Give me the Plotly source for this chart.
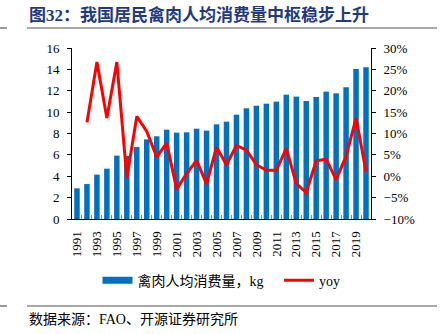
import plotly.graph_objects as go

years = list(range(1991, 2021))
consumption = [2.87, 3.27, 4.15, 4.71, 5.93, 5.90, 6.74, 7.45, 7.74, 8.36,
               8.08, 8.11, 8.45, 8.27, 8.86, 9.11, 9.76, 10.36, 10.60, 10.79,
               10.98, 11.63, 11.45, 11.04, 11.42, 11.92, 11.76, 12.32, 14.04, 14.19]
yoy_years = years[1:]
yoy = [12.6, 26.7, 13.6, 26.7, -0.4, 14.0, 10.5, 4.5, 7.8, -3.0,
       0.6, 3.7, -1.8, 6.8, 2.7, 7.2, 6.1, 2.7, 1.4, 1.4,
       6.5, -1.7, -3.8, 3.6, 4.0, -0.8, 4.7, 13.6, 1.1]
label_years = years[::2]

title = "图32：我国居民禽肉人均消费量中枢稳步上升"
source = "数据来源：FAO、开源证券研究所"
bar_name = "禽肉人均消费量，kg"
line_name = "yoy"

BLUE = "#0070C0"
RED = "#FF0000"
FONT = "Liberation Serif, Noto Sans CJK SC"

fig = go.Figure()
fig.add_trace(go.Bar(x=years, y=consumption, marker=dict(color=BLUE, line=dict(width=0)),
                     width=0.55, showlegend=False, name=bar_name))
fig.add_trace(go.Scatter(x=[None], y=[None], mode="lines", name=bar_name + "   ",
                         line=dict(color=BLUE, width=7)))
fig.add_trace(go.Scatter(x=yoy_years, y=yoy, mode="lines", name=line_name,
                         line=dict(color=RED, width=3), yaxis="y2"))
# boundary ticks on x axis
fig.add_trace(go.Scatter(x=[y + 0.5 for y in years[:-1]], y=[None] * (len(years) - 1),
                         xaxis="x2", showlegend=False, mode="markers"))

fig.update_layout(
    width=441, height=334,
    margin=dict(l=72, r=70, t=48, b=115, autoexpand=False),
    plot_bgcolor="white", paper_bgcolor="white",
    font=dict(family=FONT, size=13, color="black"),
    xaxis=dict(range=[1990.5, 2020.5], tickmode="array", tickvals=label_years,
               ticktext=[str(y) for y in label_years], tickangle=-90,
               showgrid=False, showline=True, linecolor="black", linewidth=1,
               ticks="", zeroline=False, tickfont=dict(size=13), ticklabelstandoff=6),
    xaxis2=dict(range=[1990.5, 2020.5], overlaying="x", tickmode="array",
                tickvals=[y + 0.5 for y in years[:-1]], showticklabels=False,
                ticks="inside", ticklen=4, tickcolor="#888888", showgrid=False,
                showline=False, zeroline=False, anchor="y"),
    yaxis=dict(range=[0, 16], dtick=2, showgrid=False, showline=True, linecolor="black",
               ticks="outside", ticklen=4, tickcolor="black", zeroline=False,
               tickfont=dict(size=13), ticklabelstandoff=5),
    yaxis2=dict(range=[-10, 30], dtick=5, ticksuffix="%", overlaying="y", side="right",
                showgrid=False, showline=True, linecolor="black", ticks="outside",
                ticklen=4, tickcolor="black", zeroline=False, tickfont=dict(size=13),
                ticklabelstandoff=5),
    legend=dict(orientation="h", x=0.5, xanchor="center", y=-0.36, yanchor="middle",
                font=dict(size=14), itemwidth=30, tracegroupgap=0),
)

px = lambda v: (v - 72) / 299
py = lambda v: (219 - v) / 171

fig.add_annotation(text="<b>" + title + "</b>", xref="paper", yref="paper",
                   x=px(27), y=py(15), xanchor="left", yanchor="middle",
                   showarrow=False, font=dict(size=17, color="#1F3A80", family=FONT))
fig.add_annotation(text=source, xref="paper", yref="paper",
                   x=px(27), y=py(319), xanchor="left", yanchor="middle",
                   showarrow=False, font=dict(size=14, color="black", family=FONT))

# horizontal rules (in paper coords)
for yy in (28, 306):
    fig.add_shape(type="line", xref="paper", yref="paper", x0=px(27), x1=px(437),
                  y0=py(yy), y1=py(yy), line=dict(color="#555555", width=1.2))
    fig.add_shape(type="line", xref="paper", yref="paper", x0=px(0), x1=px(7),
                  y0=py(yy), y1=py(yy), line=dict(color="#555555", width=1.2))

fig.write_html("out.html")
